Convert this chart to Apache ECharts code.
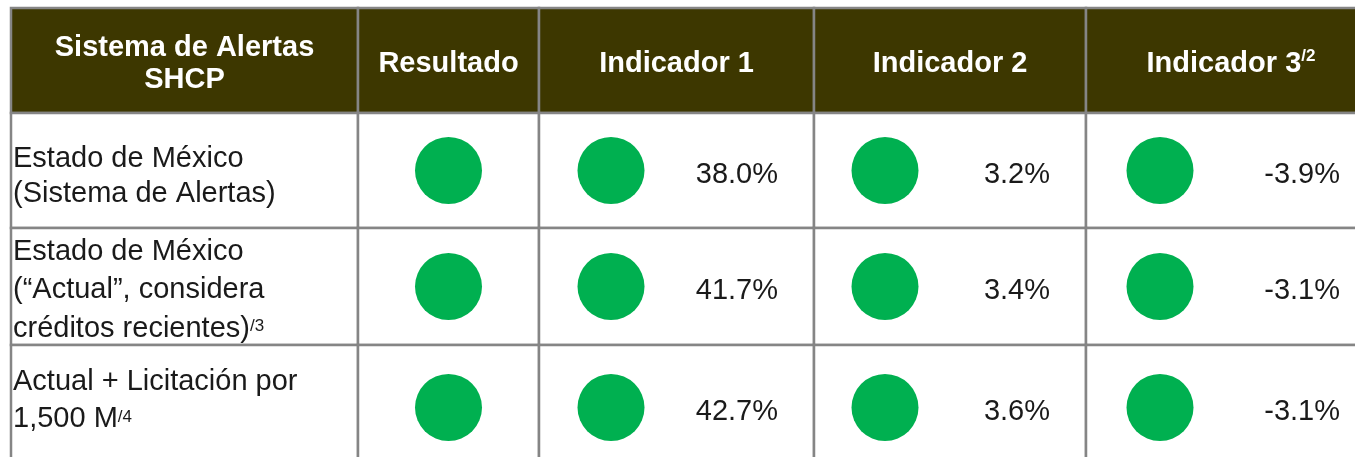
<!DOCTYPE html>
<html>
<head>
<meta charset="utf-8">
<script src="https://cdn.jsdelivr.net/npm/echarts@6/dist/echarts.min.js"></script>
<style>
  html, body { margin: 0; padding: 0; background: #fff; }
  #main { width: 1355px; height: 457px; }
</style>
</head>
<body>
<div id="main"></div>
<script>
// datos de la tabla
const headers = ['Sistema de Alertas\nSHCP', 'Resultado', 'Indicador 1', 'Indicador 2', 'Indicador 3{sup|/2}']
const rowLabels = [
  'Estado de México\n(Sistema de Alertas)',
  'Estado de México\n(“Actual”, considera\ncréditos recientes){sup|/3}',
  'Actual + Licitación por\n1,500 M{sup|/4}'
]
const resultado = ['verde', 'verde', 'verde']
const indicador1 = [38.0, 41.7, 42.7]
const indicador2 = [3.2, 3.4, 3.6]
const indicador3 = [-3.9, -3.1, -3.1]
const semaforo1 = ['verde', 'verde', 'verde']
const semaforo2 = ['verde', 'verde', 'verde']
const semaforo3 = ['verde', 'verde', 'verde']

// layout (px)
const colEdges = [11, 358, 539, 814, 1086, 1376]
const rowEdges = [8, 113, 228, 345, 470]
const dotOffset = [null, null, 72, 71, 74] // distancia del borde izq. al centro del circulo
const valueInset = 36
const labelShift = [5.5, 3.5, -7]
const labelLineHeight = [35, 38.5, 37]
const colores = { verde: '#00B050', amarillo: '#FFC000', rojo: '#FF0000' }
const headerBg = '#3D3700'
const lineColor = '#858585'
const font = '"Liberation Sans", Arial, sans-serif'

const rowMid = r => (rowEdges[r + 1] + rowEdges[r + 2]) / 2

// celdas
const cells = []
for (let r = 0; r < rowEdges.length - 1; r += 1) {
  for (let c = 0; c < colEdges.length - 1; c += 1) cells.push([c, r])
}

// circulos
const dots = []
resultado.forEach((s, r) => dots.push({ value: [(colEdges[1] + colEdges[2]) / 2, rowMid(r)], color: colores[s] }))
const semaforos = [semaforo1, semaforo2, semaforo3]
semaforos.forEach((arr, k) => {
  arr.forEach((s, r) => dots.push({ value: [colEdges[k + 2] + dotOffset[k + 2], rowMid(r)], color: colores[s] }))
})

// valores
const values = []
;[indicador1, indicador2, indicador3].forEach((arr, k) => {
  arr.forEach((v, r) => values.push([colEdges[k + 3] - valueInset, rowMid(r) + 4.5, v.toFixed(1) + '%']))
})

const chart = echarts.init(document.getElementById('main'))
chart.setOption({
  animation: false,
  grid: { left: 0, right: 0, top: 0, bottom: 0 },
  xAxis: { type: 'value', min: 0, max: 1355, show: false },
  yAxis: { type: 'value', min: 0, max: 457, inverse: true, show: false },
  series: [
    {
      type: 'custom',
      coordinateSystem: 'cartesian2d',
      data: cells,
      z: 1,
      renderItem: (params, api) => {
        const c = api.value(0)
        const r = api.value(1)
        const p0 = api.coord([colEdges[c], rowEdges[r]])
        const p1 = api.coord([colEdges[c + 1], rowEdges[r + 1]])
        const children = [{
          type: 'rect',
          shape: { x: p0[0], y: p0[1], width: p1[0] - p0[0], height: p1[1] - p0[1] },
          style: { fill: r === 0 ? headerBg : '#fff', stroke: lineColor, lineWidth: 2.5 }
        }]
        if (r === 0) {
          children.push({
            type: 'text',
            style: {
              text: headers[c],
              x: (p0[0] + p1[0]) / 2,
              y: (p0[1] + p1[1]) / 2 + 3,
              align: 'center',
              verticalAlign: 'middle',
              fill: '#fff',
              font: 'bold 29px ' + font,
              lineHeight: 32,
              rich: { sup: { fontSize: 17, fontWeight: 'bold', fill: '#fff', fontFamily: font, lineHeight: 20, verticalAlign: 'top' } }
            }
          })
        } else if (c === 0) {
          children.push({
            type: 'text',
            style: {
              text: rowLabels[r - 1],
              x: p0[0] + 2,
              y: (p0[1] + p1[1]) / 2 + labelShift[r - 1],
              align: 'left',
              verticalAlign: 'middle',
              fill: '#1a1a1a',
              font: '29px ' + font,
              lineHeight: labelLineHeight[r - 1],
              rich: { sup: { fontSize: 17, fill: '#1a1a1a', fontFamily: font, padding: [0, 0, 4, 0] } }
            }
          })
        }
        return { type: 'group', children }
      }
    },
    {
      type: 'scatter',
      data: dots.map(d => ({ value: d.value, itemStyle: { color: d.color, opacity: 1 } })),
      symbol: 'circle',
      symbolSize: 67,
      z: 3
    },
    {
      type: 'custom',
      coordinateSystem: 'cartesian2d',
      data: values,
      z: 4,
      renderItem: (params, api) => {
        const p = api.coord([api.value(0), api.value(1)])
        return {
          type: 'text',
          style: {
            text: values[params.dataIndex][2],
            x: p[0],
            y: p[1],
            align: 'right',
            verticalAlign: 'middle',
            fill: '#1a1a1a',
            font: '29px ' + font
          }
        }
      }
    }
  ]
})
</script>
</body>
</html>
